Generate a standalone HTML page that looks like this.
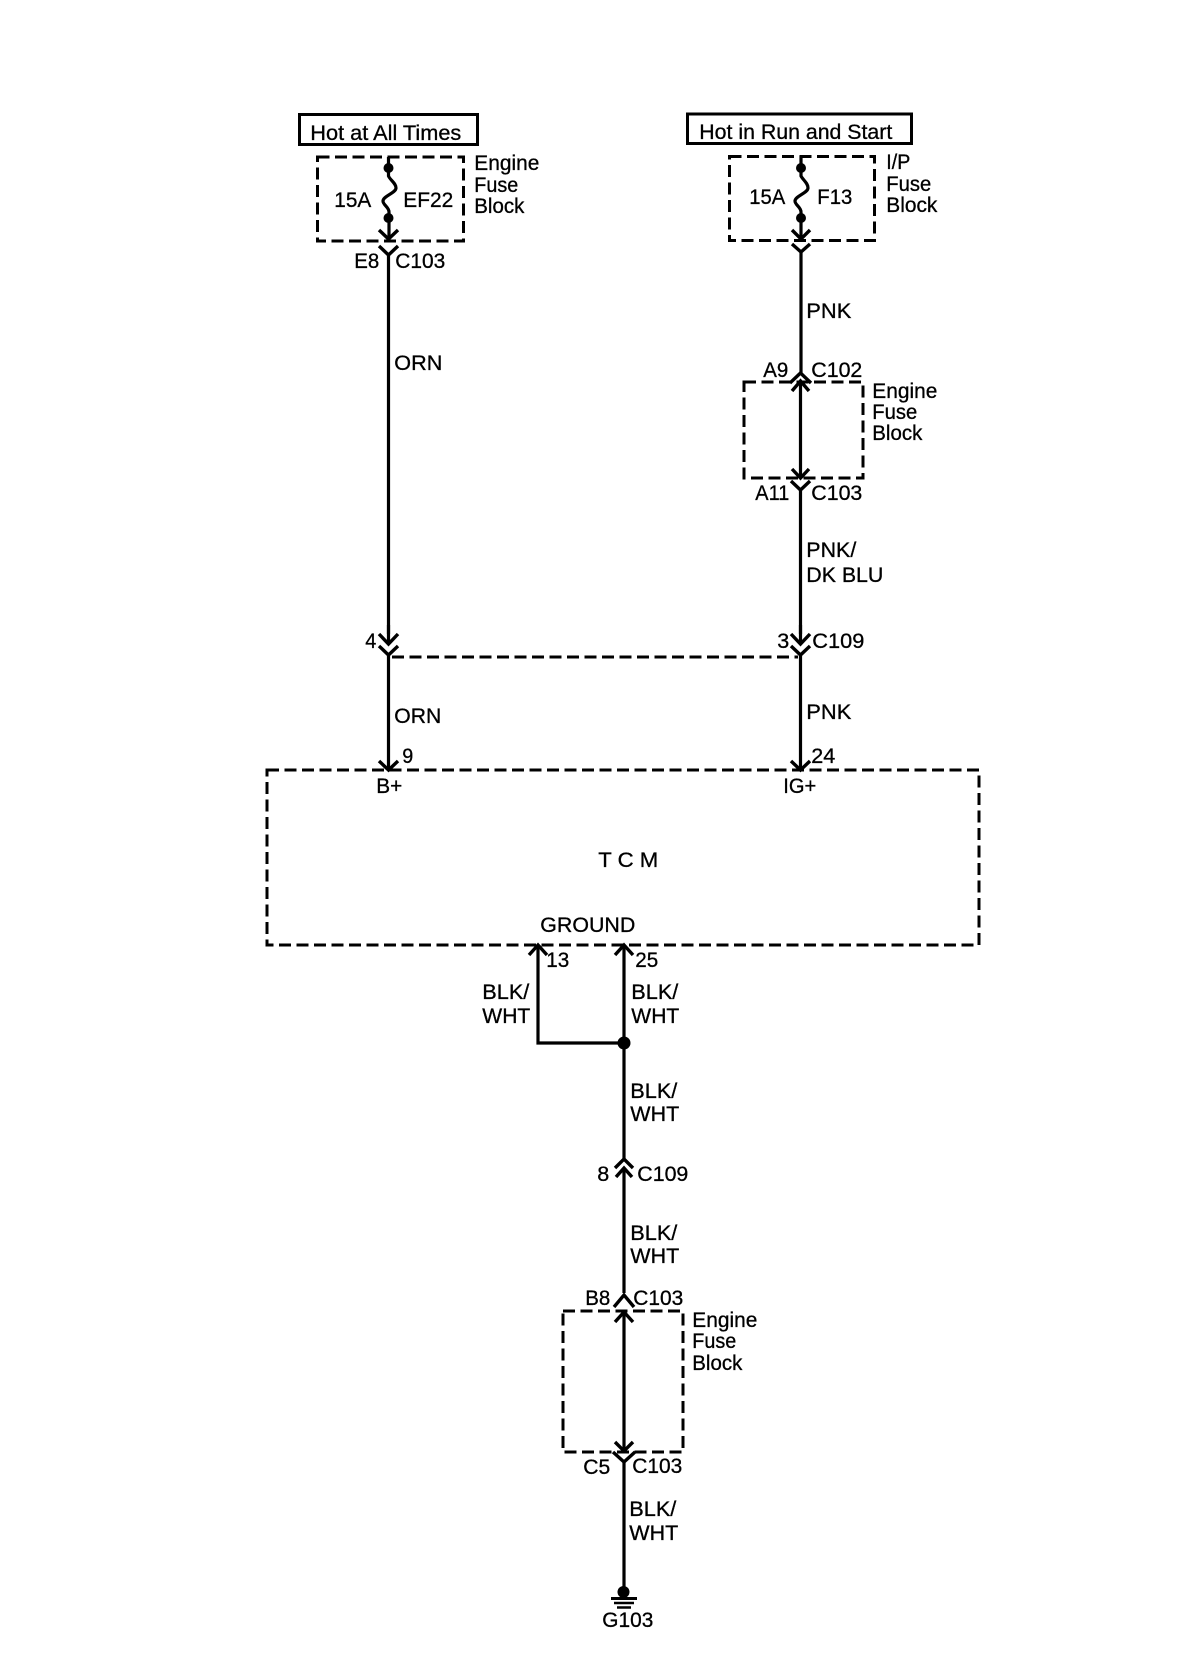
<!DOCTYPE html>
<html>
<head>
<meta charset="utf-8">
<style>
html,body{margin:0;padding:0;background:#fff}
svg{display:block}
text{font-family:"Liberation Sans",Arial,sans-serif;font-size:21px;fill:#000;stroke:#000;stroke-width:.3;transform:translateX(-.7px)}
.w{fill:none;stroke:#000;stroke-width:3.2}
.d{fill:none;stroke:#000;stroke-width:3;stroke-dasharray:12 5.5}
.c{fill:none;stroke:#000;stroke-width:3.4}
</style>
</head>
<body>
<svg width="1184" height="1668" viewBox="0 0 1184 1668" xmlns="http://www.w3.org/2000/svg">
<rect width="1184" height="1668" fill="#fff"/>

<!-- Left source -->
<rect x="299.5" y="114.5" width="178" height="30" fill="none" stroke="#000" stroke-width="3"/>
<text x="311" y="140" textLength="151" lengthAdjust="spacingAndGlyphs">Hot at All Times</text>
<rect x="317.500" y="157" width="146" height="84" class="d"/>
<path class="w" d="M388.5 157V176C390 180 396 183 396 188C396 193 383 196 383 201C383 205 389 207 389 212V238"/>
<circle cx="388.5" cy="168" r="5"/>
<circle cx="388.5" cy="218" r="5"/>
<path class="c" d="M379 230L388.5 239L398 230"/>
<path class="c" d="M379 246L388.5 255L398 246"/>
<path class="w" d="M388.5 255V634"/>
<text x="335" y="207" textLength="37" lengthAdjust="spacingAndGlyphs">15A</text>
<text x="404" y="207" textLength="50" lengthAdjust="spacingAndGlyphs">EF22</text>
<text x="475" y="170" textLength="65" lengthAdjust="spacingAndGlyphs">Engine</text>
<text x="475" y="192" textLength="44" lengthAdjust="spacingAndGlyphs">Fuse</text>
<text x="475" y="213" textLength="50" lengthAdjust="spacingAndGlyphs">Block</text>
<text x="355" y="268" textLength="25" lengthAdjust="spacingAndGlyphs">E8</text>
<text x="396" y="268" textLength="50" lengthAdjust="spacingAndGlyphs">C103</text>
<text x="395" y="370" textLength="48" lengthAdjust="spacingAndGlyphs">ORN</text>

<!-- Right source -->
<rect x="687.5" y="114" width="224" height="29.500" fill="none" stroke="#000" stroke-width="3"/>
<text x="700" y="139" textLength="193" lengthAdjust="spacingAndGlyphs">Hot in Run and Start</text>
<rect x="729.5" y="156.500" width="145" height="84" class="d"/>
<path class="w" d="M801 156V176C803 180 808 183 808 188C808 193 795 196 795 201C795 205 801 207 801 212V238"/>
<circle cx="801" cy="168" r="5"/>
<circle cx="801" cy="218" r="5"/>
<path class="c" d="M792 230L801 239L810 230"/>
<path class="c" d="M792 244L801 252L810 244"/>
<path class="w" d="M801 252V373"/>
<text x="750" y="204" textLength="36" lengthAdjust="spacingAndGlyphs">15A</text>
<text x="818" y="204" textLength="35" lengthAdjust="spacingAndGlyphs">F13</text>
<text x="887" y="169" textLength="24" lengthAdjust="spacingAndGlyphs">I/P</text>
<text x="887" y="191" textLength="45" lengthAdjust="spacingAndGlyphs">Fuse</text>
<text x="887" y="212" textLength="51" lengthAdjust="spacingAndGlyphs">Block</text>
<text x="807" y="318" textLength="45" lengthAdjust="spacingAndGlyphs">PNK</text>

<!-- Inline engine block -->
<rect x="744" y="382" width="119" height="96" class="d"/>
<path class="c" d="M790 383L800.5 373L811 383"/>
<path class="c" d="M792 391L800.5 381L809 391"/>
<path class="w" d="M800.5 381V478"/>
<path class="c" d="M792 469L800.5 478L809 469"/>
<path class="c" d="M791 481L800.5 490L810 481"/>
<path class="w" d="M800.5 490V634"/>
<text x="764" y="377" textLength="25" lengthAdjust="spacingAndGlyphs">A9</text>
<text x="812" y="377" textLength="51" lengthAdjust="spacingAndGlyphs">C102</text>
<text x="873" y="398" textLength="65" lengthAdjust="spacingAndGlyphs">Engine</text>
<text x="873" y="419" textLength="45" lengthAdjust="spacingAndGlyphs">Fuse</text>
<text x="873" y="440" textLength="50" lengthAdjust="spacingAndGlyphs">Block</text>
<text x="756" y="500" textLength="34" lengthAdjust="spacingAndGlyphs">A11</text>
<text x="812" y="500" textLength="51" lengthAdjust="spacingAndGlyphs">C103</text>
<text x="807" y="557" textLength="50" lengthAdjust="spacingAndGlyphs">PNK/</text>
<text x="807" y="582" textLength="77" lengthAdjust="spacingAndGlyphs">DK BLU</text>

<!-- C109 -->
<path class="w" d="M388.5 625V644M800.5 625V644"/>
<path class="c" d="M379 634L388.5 644L398 634"/>
<path class="c" d="M379 646L388.5 655L398 646"/>
<path class="c" d="M791 634L800.5 644L810 634"/>
<path class="c" d="M791 646L800.5 655L810 646"/>
<path class="d" d="M392 657H798"/>
<text x="366" y="648" textLength="11" lengthAdjust="spacingAndGlyphs">4</text>
<text x="778" y="648" textLength="12" lengthAdjust="spacingAndGlyphs">3</text>
<text x="813" y="648" textLength="52" lengthAdjust="spacingAndGlyphs">C109</text>
<path class="w" d="M388.5 655V770M800.5 655V770"/>
<text x="395" y="723" textLength="47" lengthAdjust="spacingAndGlyphs">ORN</text>
<text x="807" y="719" textLength="45" lengthAdjust="spacingAndGlyphs">PNK</text>
<path class="c" d="M379 761L388.5 770L398 761"/>
<path class="c" d="M791 761L800.5 770L810 761"/>
<text x="403" y="763" textLength="11" lengthAdjust="spacingAndGlyphs">9</text>
<text x="812" y="763" textLength="24" lengthAdjust="spacingAndGlyphs">24</text>

<!-- TCM -->
<rect x="267" y="770" width="712" height="175" class="d"/>
<text x="377" y="793" textLength="26" lengthAdjust="spacingAndGlyphs">B+</text>
<text x="784" y="793" textLength="33" lengthAdjust="spacingAndGlyphs">IG+</text>
<text x="599" y="867" textLength="60" lengthAdjust="spacingAndGlyphs">T C M</text>
<text x="541" y="932" textLength="95" lengthAdjust="spacingAndGlyphs">GROUND</text>

<!-- Ground splice -->
<path class="w" d="M538 946V1043H624"/>
<path class="w" d="M624 946V1160"/>
<path class="c" d="M529 955L538 945L547 955"/>
<path class="c" d="M615 955L624 945L633 955"/>
<circle cx="624" cy="1043" r="6.5"/>
<text x="547" y="967" textLength="23" lengthAdjust="spacingAndGlyphs">13</text>
<text x="636" y="967" textLength="23" lengthAdjust="spacingAndGlyphs">25</text>
<text x="483" y="999" textLength="47" lengthAdjust="spacingAndGlyphs">BLK/</text>
<text x="483" y="1023" textLength="48" lengthAdjust="spacingAndGlyphs">WHT</text>
<text x="632" y="999" textLength="47" lengthAdjust="spacingAndGlyphs">BLK/</text>
<text x="632" y="1023" textLength="48" lengthAdjust="spacingAndGlyphs">WHT</text>
<text x="631" y="1098" textLength="47" lengthAdjust="spacingAndGlyphs">BLK/</text>
<text x="631" y="1121" textLength="49" lengthAdjust="spacingAndGlyphs">WHT</text>

<!-- C109 lower -->
<path class="c" d="M615 1168L624 1159L633 1168"/>
<path class="c" d="M616 1177L624 1168L632 1177"/>
<path class="w" d="M624 1168V1293"/>
<text x="598" y="1181" textLength="12" lengthAdjust="spacingAndGlyphs">8</text>
<text x="638" y="1181" textLength="51" lengthAdjust="spacingAndGlyphs">C109</text>
<text x="631" y="1240" textLength="47" lengthAdjust="spacingAndGlyphs">BLK/</text>
<text x="631" y="1263" textLength="49" lengthAdjust="spacingAndGlyphs">WHT</text>

<!-- Lower engine block -->
<rect x="563" y="1311" width="120" height="141" class="d"/>
<path class="c" d="M614 1307L624 1295L634 1307"/>
<path class="c" d="M615 1322L624 1312L633 1322"/>
<path class="w" d="M624 1312V1450"/>
<path class="c" d="M615 1442L624 1451L633 1442"/>
<path class="c" d="M613 1452L624 1462L635 1452"/>
<path class="w" d="M624 1462V1592"/>
<text x="586" y="1305" textLength="25" lengthAdjust="spacingAndGlyphs">B8</text>
<text x="634" y="1305" textLength="50" lengthAdjust="spacingAndGlyphs">C103</text>
<text x="693" y="1327" textLength="65" lengthAdjust="spacingAndGlyphs">Engine</text>
<text x="693" y="1348" textLength="44" lengthAdjust="spacingAndGlyphs">Fuse</text>
<text x="693" y="1370" textLength="50" lengthAdjust="spacingAndGlyphs">Block</text>
<text x="584" y="1474" textLength="27" lengthAdjust="spacingAndGlyphs">C5</text>
<text x="633" y="1473" textLength="50" lengthAdjust="spacingAndGlyphs">C103</text>
<text x="630" y="1516" textLength="47" lengthAdjust="spacingAndGlyphs">BLK/</text>
<text x="630" y="1540" textLength="49" lengthAdjust="spacingAndGlyphs">WHT</text>

<!-- Ground -->
<circle cx="623.5" cy="1592" r="6"/>
<path d="M611 1598.500H637" stroke="#000" stroke-width="3"/>
<path d="M614 1603H634" stroke="#000" stroke-width="2.500"/>
<path d="M617 1607.500H631" stroke="#000" stroke-width="2.500"/>
<text x="603" y="1627" textLength="51" lengthAdjust="spacingAndGlyphs">G103</text>
</svg>
</body>
</html>
